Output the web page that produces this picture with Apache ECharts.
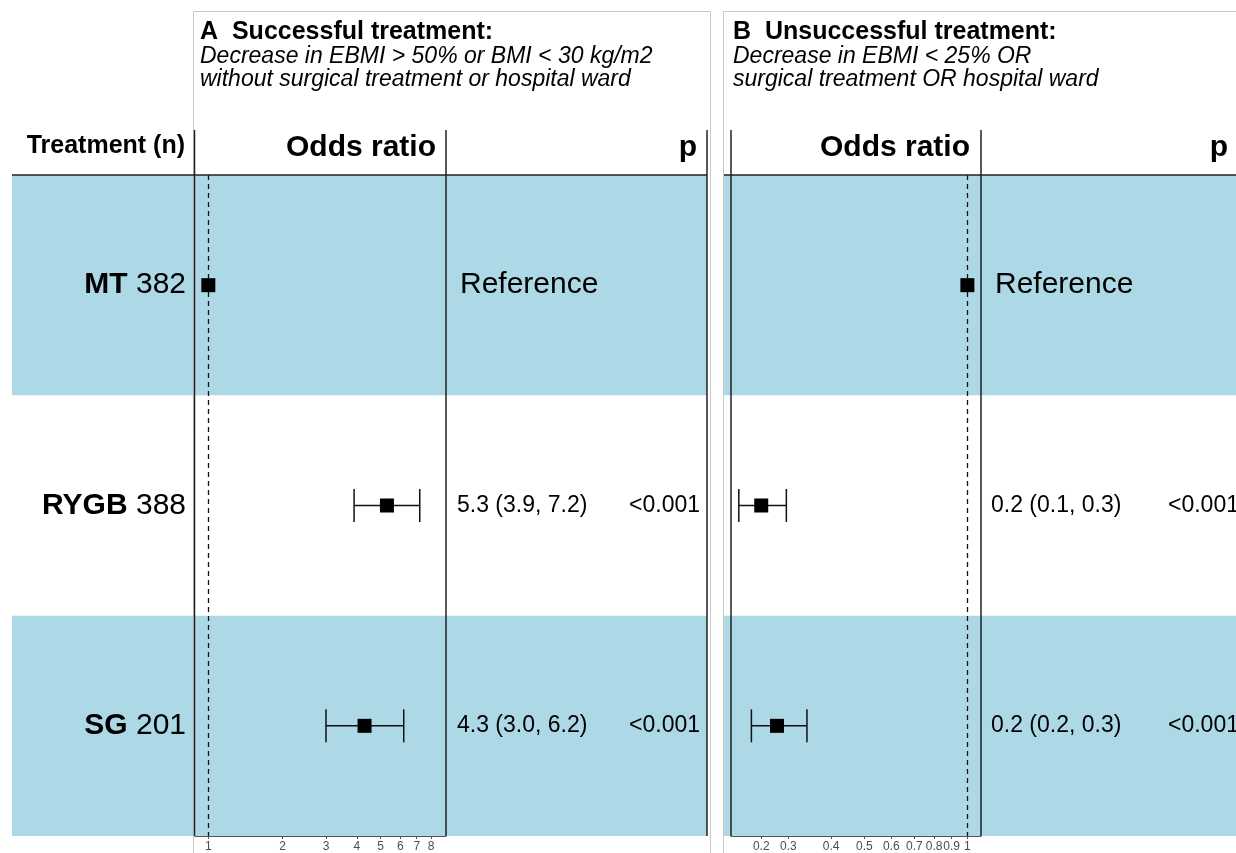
<!DOCTYPE html>
<html>
<head>
<meta charset="utf-8">
<script src="https://cdn.jsdelivr.net/npm/echarts@6/dist/echarts.min.js"></script>
<style>
  html, body { margin: 0; padding: 0; background: #ffffff; }
  #chart { width: 1236px; height: 853px; }
</style>
</head>
<body>
<div id="chart"></div>
<script>
// ---- data ----
const treatments = ['MT', 'RYGB', 'SG'];
const patientCounts = [382, 388, 201];

// Panel A: successful treatment (odds ratio with 95% CI)
const oddsSuccess = [1, 5.3, 4.3];
const lowerSuccess = [null, 3.9, 3.0];
const upperSuccess = [null, 7.2, 6.2];
const pSuccess = ['', '<0.001', '<0.001'];

// Panel B: unsuccessful treatment
const oddsFailure = [1, 0.25, 0.278];
const lowerFailure = [null, 0.215, 0.234];
const upperFailure = [null, 0.296, 0.34];
const estimateTextFailure = ['Reference', '0.2 (0.1, 0.3)', '0.2 (0.2, 0.3)'];
const pFailure = ['', '<0.001', '<0.001'];

// log-scale axis extents and ticks
const rangeSuccess = [0.883, 9.2];
const ticksSuccess = [1, 2, 3, 4, 5, 6, 7, 8];
const tickLabelsSuccess = ['1', '2', '3', '4', '5', '6', '7', '8'];
const rangeFailure = [0.204, 1.096];
const ticksFailure = [0.25, 0.3, 0.4, 0.5, 0.6, 0.7, 0.8, 0.9, 1];
const tickLabelsFailure = ['0.2', '0.3', '0.4', '0.5', '0.6', '0.7', '0.8', '0.9', '1'];

// ---- layout ----
const FONT = '"Liberation Sans", Arial, Helvetica, sans-serif';
const TOP = 175, BODY_H = 661;
const TABLE_A = { left: 12, width: 695 };
const TABLE_B = { left: 724, width: 512 };
const PLOT_A = { left: 195, width: 251 };
const PLOT_B = { left: 731, width: 250 };
const BAND = '#ADD8E6';
const INK = '#111111';

const estimateTextSuccess = treatments.map((t, i) =>
  i === 0 ? 'Reference'
    : `${oddsSuccess[i].toFixed(1)} (${lowerSuccess[i].toFixed(1)}, ${upperSuccess[i].toFixed(1)})`);

function tickLabel(v, ticks, labels) {
  for (let i = 0; i < ticks.length; i++) {
    if (Math.abs(Math.log10(ticks[i]) - v) < 1e-6) return labels[i];
  }
  return '';
}

function forestXAxis(gridIndex, range, ticks, labels) {
  const logs = ticks.map(Math.log10);
  return {
    gridIndex, type: 'value',
    min: Math.log10(range[0]), max: Math.log10(range[1]),
    splitLine: { show: false },
    axisLine: { show: true, onZero: false, lineStyle: { color: '#555', width: 1 } },
    axisTick: { show: true, customValues: logs, length: 3, lineStyle: { color: '#555' } },
    axisLabel: {
      show: true, customValues: logs, hideOverlap: false,
      formatter: v => tickLabel(v, ticks, labels),
      fontFamily: FONT, fontSize: 12, color: '#4d4d4d', margin: 5
    }
  };
}

function hiddenY(gridIndex) {
  return { gridIndex, type: 'category', data: treatments, inverse: true, show: false };
}

function bandSeries(idx, width) {
  return {
    type: 'bar', xAxisIndex: idx, yAxisIndex: idx, silent: true, z: 0,
    barWidth: '100%',
    itemStyle: { color: BAND },
    data: treatments.map((t, i) => (i % 2 === 0 ? width : '-'))
  };
}

function errorBarSeries(idx, lower, upper) {
  const data = [];
  treatments.forEach((t, i) => {
    if (lower[i] != null) data.push([Math.log10(lower[i]), Math.log10(upper[i]), i]);
  });
  return {
    type: 'custom', xAxisIndex: idx, yAxisIndex: idx, silent: true, z: 5,
    encode: { x: [0, 1], y: 2 },
    data,
    renderItem(params, api) {
      const a = api.coord([api.value(0), api.value(2)]);
      const b = api.coord([api.value(1), api.value(2)]);
      const h = 16.5;
      const st = { stroke: INK, lineWidth: 1.5 };
      return {
        type: 'group',
        children: [
          { type: 'line', shape: { x1: a[0], y1: a[1], x2: b[0], y2: b[1] }, style: st },
          { type: 'line', shape: { x1: a[0], y1: a[1] - h, x2: a[0], y2: a[1] + h }, style: st },
          { type: 'line', shape: { x1: b[0], y1: b[1] - h, x2: b[0], y2: b[1] + h }, style: st }
        ]
      };
    }
  };
}

function markerSeries(idx, odds) {
  return {
    type: 'scatter', xAxisIndex: idx, yAxisIndex: idx, silent: true, z: 6,
    symbol: 'rect', symbolSize: 14,
    itemStyle: { color: '#000', opacity: 1 },
    data: odds.map((v, i) => [Math.log10(v), i]),
    markLine: {
      silent: true, symbol: 'none', label: { show: false },
      lineStyle: { color: INK, width: 1.3, type: [5, 4], opacity: 1 },
      data: [{ xAxis: 0 }]
    }
  };
}

// text placed in table rows (x in px from the table's left edge)
function textSeries(idx, items, side, extraLabel) {
  return {
    type: 'scatter', xAxisIndex: idx, yAxisIndex: idx, silent: true, z: 7,
    symbolSize: 0, itemStyle: { color: 'transparent', opacity: 1 },
    data: items,
    label: Object.assign({
      show: true, position: side, distance: 0,
      fontFamily: FONT, color: '#000', fontSize: 23, opacity: 1
    }, extraLabel || {})
  };
}

const rowLabelItems = treatments.map((t, i) => ({
  value: [174, i],
  label: { formatter: `{b|${t}}{n| ${patientCounts[i]}}` }
}));

const estimateItemsA = estimateTextSuccess.map((s, i) => ({
  value: [i === 0 ? 448 : 445, i],
  label: { formatter: s, fontSize: i === 0 ? 30 : 23 }
}));
const pItemsA = pSuccess.map((s, i) => ({ value: [688, i], label: { formatter: s } }));

const estimateItemsB = estimateTextFailure.map((s, i) => ({
  value: [i === 0 ? 271 : 267, i],
  label: { formatter: s, fontSize: i === 0 ? 30 : 23 }
}));
const pItemsB = pFailure.map((s, i) => ({ value: [444, i], label: { formatter: s } }));

// ---- decoration: titles, headers, rules ----
function txt(text, x, y, opts) {
  return {
    type: 'text', z: 100, silent: true,
    style: Object.assign({
      text, x, y, fill: '#000', fontFamily: FONT, fontSize: 23,
      align: 'left', verticalAlign: 'middle'
    }, opts || {})
  };
}
function rule(x1, y1, x2, y2, color, w) {
  return {
    type: 'line', z: 90, silent: true,
    shape: { x1, y1, x2, y2 },
    style: { stroke: color, lineWidth: w }
  };
}

const bottomY = TOP + BODY_H;
const graphics = [
  // panel frames
  { type: 'rect', z: 80, silent: true, shape: { x: 193.5, y: 11.5, width: 517, height: 900 },
    style: { fill: 'none', stroke: '#c8c8c8', lineWidth: 1 } },
  { type: 'rect', z: 80, silent: true, shape: { x: 723.5, y: 11.5, width: 600, height: 900 },
    style: { fill: 'none', stroke: '#c8c8c8', lineWidth: 1 } },
  // titles
  txt('A  Successful treatment:', 200, 32, { fontSize: 25, fontWeight: 'bold' }),
  txt('Decrease in EBMI > 50% or BMI < 30 kg/m2', 200, 57, { fontSize: 23, fontStyle: 'italic' }),
  txt('without surgical treatment or hospital ward', 200, 80, { fontSize: 23, fontStyle: 'italic' }),
  txt('B  Unsuccessful treatment:', 733, 32, { fontSize: 25, fontWeight: 'bold' }),
  txt('Decrease in EBMI < 25% OR', 733, 57, { fontSize: 23, fontStyle: 'italic' }),
  txt('surgical treatment OR hospital ward', 733, 80, { fontSize: 23, fontStyle: 'italic' }),
  // column headers
  txt('Treatment (n)', 185, 146, { fontSize: 25, fontWeight: 'bold', align: 'right' }),
  txt('Odds ratio', 436, 148, { fontSize: 30, fontWeight: 'bold', align: 'right' }),
  txt('p', 697, 148, { fontSize: 30, fontWeight: 'bold', align: 'right' }),
  txt('Odds ratio', 970, 148, { fontSize: 30, fontWeight: 'bold', align: 'right' }),
  txt('p', 1228, 148, { fontSize: 30, fontWeight: 'bold', align: 'right' }),
  // header rules
  rule(TABLE_A.left, TOP, TABLE_A.left + TABLE_A.width, TOP, '#222', 1.5),
  rule(TABLE_B.left, TOP, TABLE_B.left + TABLE_B.width, TOP, '#222', 1.5),
  // column rules
  rule(194.5, 130, 194.5, bottomY, '#222', 1.5),
  rule(446, 130, 446, bottomY, '#222', 1.5),
  rule(707, 130, 707, bottomY, '#222', 1.5),
  rule(731, 130, 731, bottomY, '#222', 1.5),
  rule(981, 130, 981, bottomY, '#222', 1.5)
];

const option = {
  animation: false,
  backgroundColor: '#ffffff',
  grid: [
    { left: TABLE_A.left, top: TOP, width: TABLE_A.width, height: BODY_H },
    { left: TABLE_B.left, top: TOP, width: TABLE_B.width, height: BODY_H },
    { left: PLOT_A.left, top: TOP, width: PLOT_A.width, height: BODY_H },
    { left: PLOT_B.left, top: TOP, width: PLOT_B.width, height: BODY_H }
  ],
  xAxis: [
    { gridIndex: 0, type: 'value', min: 0, max: TABLE_A.width, show: false },
    { gridIndex: 1, type: 'value', min: 0, max: TABLE_B.width, show: false },
    forestXAxis(2, rangeSuccess, ticksSuccess, tickLabelsSuccess),
    forestXAxis(3, rangeFailure, ticksFailure, tickLabelsFailure)
  ],
  yAxis: [hiddenY(0), hiddenY(1), hiddenY(2), hiddenY(3)],
  series: [
    bandSeries(0, TABLE_A.width),
    bandSeries(1, TABLE_B.width),
    textSeries(0, rowLabelItems, 'left', {
      rich: {
        b: { fontFamily: FONT, fontSize: 30, fontWeight: 'bold', color: '#000' },
        n: { fontFamily: FONT, fontSize: 30, color: '#000' }
      }
    }),
    textSeries(0, estimateItemsA, 'right'),
    textSeries(0, pItemsA, 'left'),
    textSeries(1, estimateItemsB, 'right'),
    textSeries(1, pItemsB, 'right'),
    errorBarSeries(2, lowerSuccess, upperSuccess),
    markerSeries(2, oddsSuccess),
    errorBarSeries(3, lowerFailure, upperFailure),
    markerSeries(3, oddsFailure)
  ],
  graphic: graphics
};

const chart = echarts.init(document.getElementById('chart'), null, { renderer: 'canvas' });
chart.setOption(option);
</script>
</body>
</html>
